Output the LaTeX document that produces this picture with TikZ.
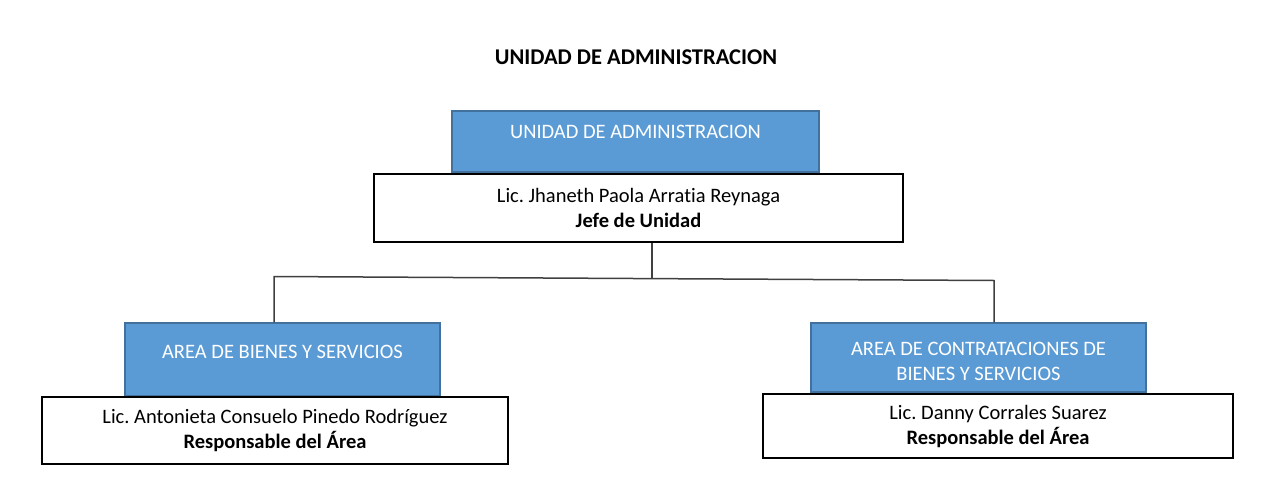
\documentclass[tikz,border=0pt]{standalone}
\usepackage{fontspec}
\setmainfont[Ligatures=NoCommon]{Carlito}
\frenchspacing
\definecolor{boxblue}{HTML}{5B9BD5}
\definecolor{boxedge}{HTML}{41719C}
\definecolor{linkgray}{HTML}{404040}
\begin{document}
\begin{tikzpicture}[x=1pt,y=-1pt,
  bluebox/.style={draw=boxedge, line width=1.5pt, fill=boxblue, inner sep=0pt},
  whitebox/.style={draw=black, line width=2pt, fill=white, align=center, inner sep=0pt,
    font=\fontsize{20.5}{25}\selectfont},
  bluetext/.style={text=white, align=center, inner sep=0pt, font=\fontsize{20.5}{25}\selectfont},
  link/.style={draw=linkgray, line width=1.5pt}]
\useasboundingbox (0,0) rectangle (1283,485);
\fill[white] (0,0) rectangle (1283,485);
\node[font=\bfseries\fontsize{22.5}{27}\selectfont] (title) at (636,57) {UNIDAD DE ADMINISTRACION};
% top unit
\node[bluebox, minimum width=367pt, minimum height=61pt] (topblue) at (635.5,141.5) {};
\node[bluetext] (toptext) at (635.5,132) {UNIDAD DE ADMINISTRACION};
\node[whitebox, minimum width=529pt, minimum height=68pt] (topwhite) at (638.5,208)
  {Lic. Jhaneth Paola Arratia Reynaga\\\textbf{Jefe de Unidad}};
% left area
\node[bluebox, minimum width=315pt, minimum height=73pt] (leftblue) at (282.5,359.5) {};
\node[bluetext] (lefttext) at (282.5,352) {AREA DE BIENES Y SERVICIOS};
\node[whitebox, minimum width=466pt, minimum height=67pt] (leftwhite) at (275,430.5)
  {Lic. Antonieta Consuelo Pinedo Rodríguez\\\textbf{Responsable del Área}};
% right area
\node[bluebox, minimum width=335pt, minimum height=69pt] (rightblue) at (978.5,357.5) {};
\node[bluetext] (righttext) at (978.5,361.5) {AREA DE CONTRATACIONES DE\\BIENES Y SERVICIOS};
\node[whitebox, minimum width=470pt, minimum height=64pt] (rightwhite) at (998,426)
  {Lic. Danny Corrales Suarez\\\textbf{Responsable del Área}};
% connectors
\coordinate (jn) at (652,278.5);
\coordinate (hl) at (274,276.5);
\coordinate (hr) at (994,280.5);
\draw[link] (jn |- topwhite.south) -- (jn);
\draw[link] (leftblue.north -| hl) -- (hl) -- (hr) -- (hr |- rightblue.north);
\end{tikzpicture}
\end{document}
